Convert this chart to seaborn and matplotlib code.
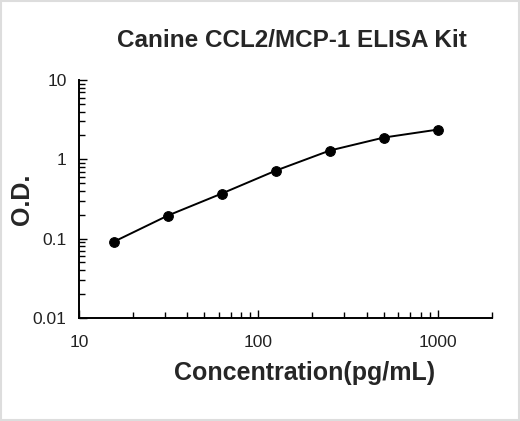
import numpy as np
import pandas as pd
import seaborn as sns
import matplotlib
matplotlib.use("Agg")
import matplotlib.pyplot as plt
from matplotlib.ticker import LogLocator, FixedLocator, FixedFormatter, NullFormatter

# standard curve
conc = [15.6, 31.25, 62.5, 125, 250, 500, 1000]
od = [0.091, 0.195, 0.37, 0.72, 1.29, 1.88, 2.37]

x_ticks = [10, 100, 1000]
x_labels = ['10', '100', '1000']
y_ticks = [0.01, 0.1, 1, 10]
y_labels = ['0.01', '0.1', '1', '10']

df = pd.DataFrame({'conc': conc, 'od': od})

sns.set_style("white")
plt.rcParams['font.family'] = ['Liberation Sans', 'DejaVu Sans']

fig = plt.figure(figsize=(5.2, 4.21), dpi=100)
ax = fig.add_axes([0.152, 0.245, 0.794, 0.565])

sns.lineplot(x='conc', y='od', data=df, ax=ax, color='black', linewidth=1.4,
             marker='o', markersize=7, markeredgecolor='black', markerfacecolor='black')

ax.set_xscale('log')
ax.set_yscale('log')
ax.set_xlim(10, 2000)
ax.set_ylim(0.01, 10)

ax.xaxis.set_major_locator(FixedLocator(x_ticks))
ax.xaxis.set_major_formatter(FixedFormatter(x_labels))
ax.yaxis.set_major_locator(FixedLocator(y_ticks))
ax.yaxis.set_major_formatter(FixedFormatter(y_labels))
ax.xaxis.set_minor_locator(LogLocator(base=10, subs=np.arange(2, 10)))
ax.yaxis.set_minor_locator(LogLocator(base=10, subs=np.arange(2, 10)))
ax.xaxis.set_minor_formatter(NullFormatter())
ax.yaxis.set_minor_formatter(NullFormatter())

ax.tick_params(axis='both', which='both', direction='in', color='black', width=1.0,
               bottom=True, left=True)
ax.tick_params(axis='both', which='major', length=6, labelsize=12.5, labelcolor='#222222')
ax.tick_params(axis='both', which='minor', length=4)
ax.tick_params(axis='x', which='both', pad=12)
ax.tick_params(axis='y', which='both', pad=9)

for s in ['top', 'right']:
    ax.spines[s].set_visible(False)
for s in ['bottom', 'left']:
    ax.spines[s].set_color('black')
    ax.spines[s].set_linewidth(1.4)

ax.set_title('Canine CCL2/MCP-1 ELISA Kit', fontsize=17.5, fontweight='bold', pad=24, x=0.516)
ax.set_xlabel('Concentration(pg/mL)', fontsize=18, fontweight='bold', labelpad=8, x=0.547)
ax.set_ylabel('O.D.', fontsize=18, fontweight='bold', labelpad=-1)

# faint frame round the picture, as in the reference
fig.patches.append(plt.Rectangle((0.002, 0.002), 0.996, 0.996, transform=fig.transFigure,
                                 fill=False, edgecolor='#dddddd', linewidth=1.5))

fig.savefig('out.png', dpi=100)
